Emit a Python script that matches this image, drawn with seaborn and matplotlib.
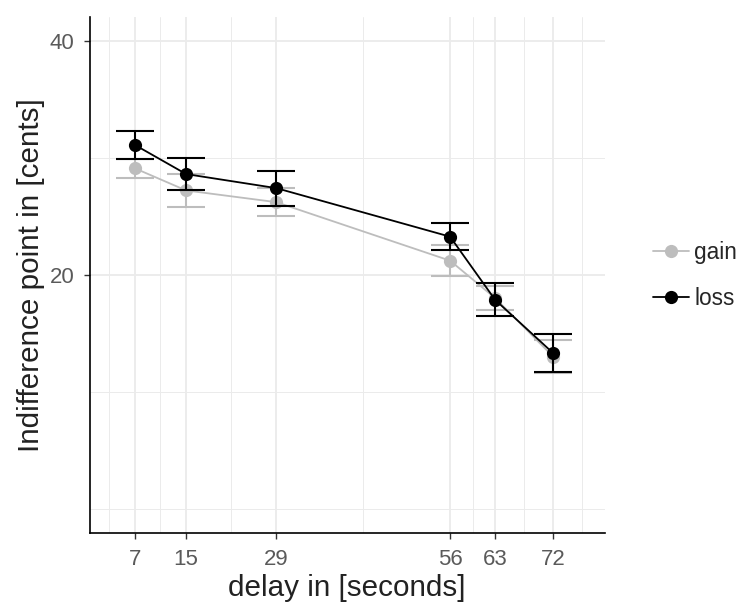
import numpy as np
import pandas as pd
import matplotlib
matplotlib.use("Agg")
import matplotlib.pyplot as plt
import seaborn as sns
from matplotlib.lines import Line2D

# ---- data ----
delays = [7, 15, 29, 56, 63, 72]
gain_mean = [29.1, 27.2, 26.2, 21.2, 18.0, 13.0]
gain_se = [0.8, 1.4, 1.2, 1.3, 1.0, 1.4]
loss_mean = [31.1, 28.6, 27.4, 23.25, 17.85, 13.3]
loss_se = [1.2, 1.35, 1.5, 1.15, 1.4, 1.6]
conditions = ["gain", "loss"]
x_ticks = [7, 15, 29, 56, 63, 72]
y_ticks = [20, 40]
y_minor = [0, 10, 30]
x_minor = [3, 11, 22, 42.5, 59.5, 67.5, 76.5]

df = pd.DataFrame({
    "delay": delays * 2,
    "point": gain_mean + loss_mean,
    "se": gain_se + loss_se,
    "condition": ["gain"] * len(delays) + ["loss"] * len(delays),
})

colors = {"gain": "#BDBDBD", "loss": "#000000"}

sns.set_theme(style="white")
plt.rcParams["font.family"] = ["Liberation Sans", "DejaVu Sans"]

fig = plt.figure(figsize=(7.39, 6.03), dpi=100)
ax = fig.add_axes([89.6 / 739, 1 - 533.3 / 603, (604.6 - 89.6) / 739, (533.3 - 16.7) / 603])

# grid
for v in x_minor:
    ax.axvline(v, color="#EBEBEB", lw=0.7, zorder=0)
for v in y_minor:
    ax.axhline(v, color="#EBEBEB", lw=0.7, zorder=0)
for v in x_ticks:
    ax.axvline(v, color="#EBEBEB", lw=1.3, zorder=0)
for v in y_ticks:
    ax.axhline(v, color="#EBEBEB", lw=1.3, zorder=0)

for cond in conditions:
    sub = df[df.condition == cond]
    ax.errorbar(sub["delay"], sub["point"], yerr=sub["se"], fmt="none",
                ecolor=colors[cond], elinewidth=1.5, capsize=14, capthick=1.5,
                zorder=2 if cond == "gain" else 4)

sns.lineplot(data=df, x="delay", y="point", hue="condition", palette=colors,
             marker="o", markersize=9.5, markeredgewidth=0, linewidth=1.3,
             errorbar=None, legend=False, ax=ax, zorder=3)
# put loss on top
for line in ax.lines:
    if line.get_color() in ("#000000", "k", (0, 0, 0, 1)):
        line.set_zorder(5)

ax.set_xlim(0, 80)
ax.set_ylim(-2.1, 42.05)
ax.set_xticks(x_ticks)
ax.set_xticklabels([str(v) for v in x_ticks])
ax.set_yticks(y_ticks)
ax.set_yticklabels([str(v) for v in y_ticks])
ax.tick_params(axis="both", which="major", length=4, width=1, color="#333333",
               labelsize=16, labelcolor="#5A5A5A", pad=7, left=True, bottom=True)

for s in ["top", "right"]:
    ax.spines[s].set_visible(False)
for s in ["left", "bottom"]:
    ax.spines[s].set_color("black")
    ax.spines[s].set_linewidth(1.2)

ax.set_xlabel("delay in [seconds]", fontsize=21.3, color="#222222", labelpad=3)
ax.set_ylabel("Indifference point in [cents]", fontsize=21.3, color="#222222", labelpad=3)
ax.grid(False)

handles = [Line2D([0], [0], color=colors[c], marker="o", markersize=9.5,
                  markeredgewidth=0, linewidth=1.3) for c in conditions]
fig.legend(handles, conditions, loc="center left",
           bbox_to_anchor=(653 / 739, 1 - 275.5 / 603), bbox_transform=fig.transFigure,
           frameon=False, fontsize=16.3, handlelength=1.6, handletextpad=0.22,
           labelspacing=1.05, borderpad=0, borderaxespad=0)

fig.savefig("out.png", dpi=100)
